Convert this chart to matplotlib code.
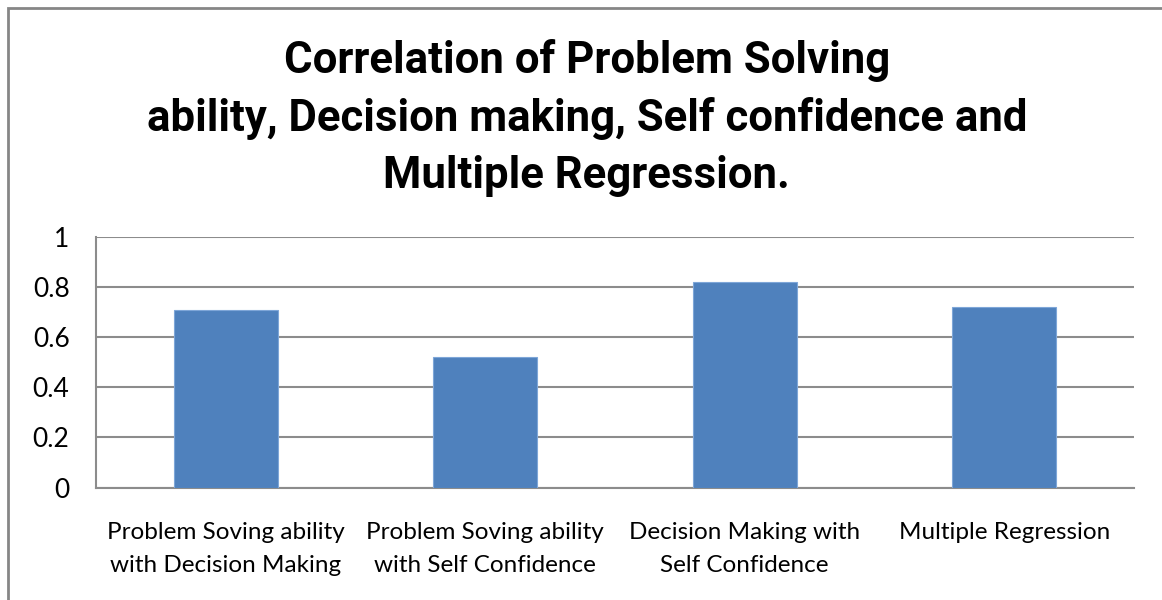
import matplotlib
matplotlib.use("Agg")
import matplotlib.pyplot as plt
from matplotlib.patches import Rectangle

categories = [
    "Problem Soving ability\nwith Decision Making",
    "Problem Soving ability\nwith Self Confidence",
    "Decision Making with\nSelf Confidence",
    "Multiple Regression",
]
values = [0.71, 0.52, 0.82, 0.72]
yticks = [0, 0.2, 0.4, 0.6, 0.8, 1.0]
ytick_labels = ["0", "0.2", "0.4", "0.6", "0.8", "1"]
title = ("Correlation of Problem Solving\n"
         "ability, Decision making, Self confidence and\n"
         "Multiple Regression.")

W, H = 1162, 600
fig = plt.figure(figsize=(W / 100, H / 100), dpi=100)
fig.patch.set_facecolor("white")

# outer chart border
fig.patches.append(Rectangle((8 / W, -0.05), 1.1, 1 - 8 / H + 0.05,
                             transform=fig.transFigure, fill=False,
                             edgecolor="#868686", linewidth=2.0))

ax = fig.add_axes([96 / W, 1 - 487.5 / H, (1134 - 96) / W, (487.5 - 237) / H])
x = list(range(len(categories)))
ax.bar(x, values, width=0.4, color="#4F81BD", edgecolor="#7EA6D8",
       linewidth=0.8, zorder=3)
ax.set_xlim(-0.5, len(categories) - 0.5)
ax.set_ylim(0, 1.0)
ax.set_yticks(yticks)
ax.set_yticklabels(ytick_labels)
ax.set_xticks(x)
ax.set_xticklabels(categories)
ax.grid(axis="y", color="#8C8C8C", linewidth=1.5, zorder=0)
ax.set_axisbelow(True)
for s in ["top", "right"]:
    ax.spines[s].set_visible(False)
for s in ["left", "bottom"]:
    ax.spines[s].set_color("#8C8C8C")
    ax.spines[s].set_linewidth(1.5)
ax.tick_params(axis="both", length=0)
ax.tick_params(axis="y", pad=19)
ax.tick_params(axis="x", pad=25)
label_font = ["Lato", "DejaVu Sans"]
for t in ax.get_yticklabels():
    t.set_fontfamily(label_font)
    t.set_fontsize(19)
for t in ax.get_xticklabels():
    t.set_fontfamily(label_font)
    t.set_fontsize(17.5)
    t.set_linespacing(1.7)

fig.text(0.505, 1 - 118 / H, title, ha="center", va="center",
         fontsize=31.5, fontweight="bold", linespacing=1.45,
         family=["Roboto", "Liberation Sans", "DejaVu Sans"])

fig.savefig("out.png", dpi=100, facecolor="white")
